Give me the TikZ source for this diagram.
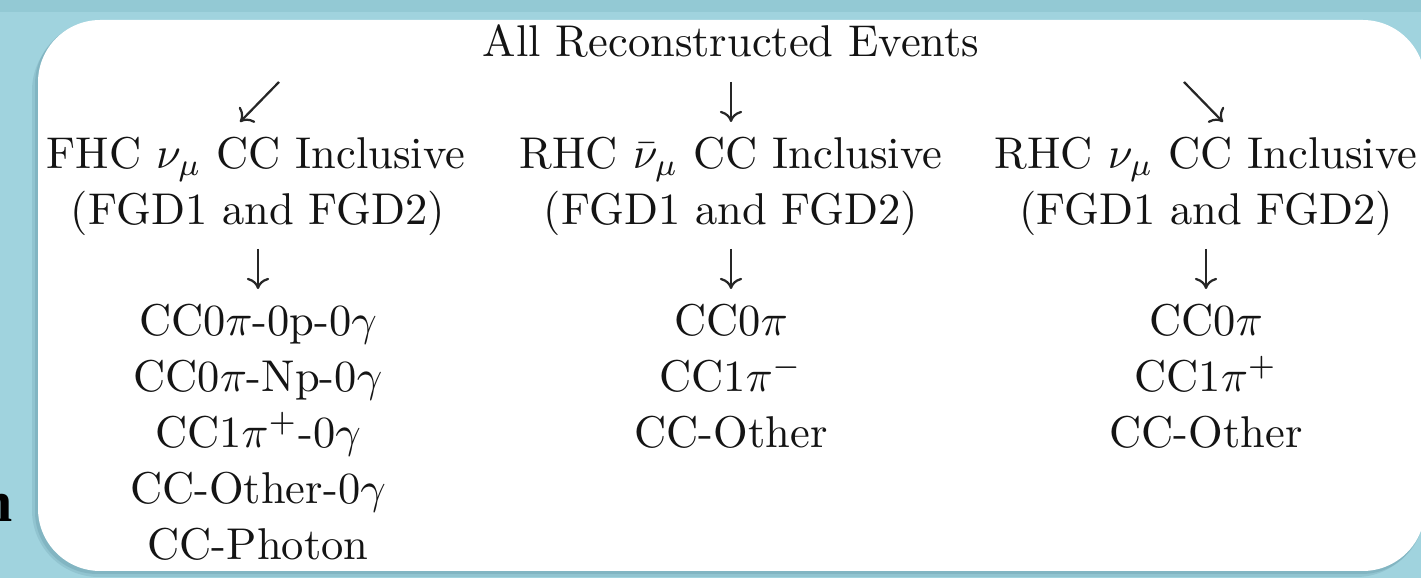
\documentclass[tikz,border=0pt]{standalone}
\usepackage{fontspec}
\newfontfamily\slidefont{Liberation Serif}
\usetikzlibrary{arrows.meta}
\definecolor{bgblue}{RGB}{160,211,222}
\definecolor{bgdark}{RGB}{120,178,192}
\definecolor{shadowc}{RGB}{80,130,145}
\begin{document}
\begin{tikzpicture}[x=0.2247pt, y=-0.2247pt,
  txt/.style={anchor=base, inner sep=0pt, font=\fontsize{10}{12}\selectfont, text=black!92},
  cmarr/.style={line width=0.5pt, draw=black!85, -{Computer Modern Rightarrow[length=2.5pt,width=5pt]}}]
\useasboundingbox (0,0) rectangle (1421,578);
% background
\fill[bgblue] (0,0) rectangle (1421,578);
\fill[bgdark, opacity=0.3] (0,0) rectangle (1421,12);
% soft shadow and white panel
\fill[shadowc, opacity=0.18, rounded corners=15pt] (32,24) rectangle (1423,577);
\fill[shadowc, opacity=0.22, rounded corners=14pt] (35,22) rectangle (1424,574);
\fill[white, rounded corners=14pt] (38,20) rectangle (1425,571);
% cut-off letter at the left edge
\node[anchor=base west, inner sep=0pt, font=\slidefont\bfseries\fontsize{13}{15}\selectfont] (cut) at (-20,522) {n};
% texts
\node[txt] (all) at (731,57) {All Reconstructed Events};
\node[txt] (fhc) at (256,168.6) {FHC $\nu_\mu$ CC Inclusive};
\node[txt] (rhcb) at (731,168.6) {RHC $\bar{\nu}_\mu$ CC Inclusive};
\node[txt] (rhc) at (1206,168.6) {RHC $\nu_\mu$ CC Inclusive};
\node[txt] (fhcd) at (258,224.4) {(FGD1 and FGD2)};
\node[txt] (rhcbd) at (731,224.4) {(FGD1 and FGD2)};
\node[txt] (rhcd) at (1206,224.4) {(FGD1 and FGD2)};
% FHC samples
\node[txt] (f1) at (258,336) {CC0$\pi$-0p-0$\gamma$};
\node[txt] (f2) at (258,391.8) {CC0$\pi$-Np-0$\gamma$};
\node[txt] (f3) at (258,447.6) {CC1$\pi^+$-0$\gamma$};
\node[txt] (f4) at (258,503.4) {CC-Other-0$\gamma$};
\node[txt] (f5) at (258,559.2) {CC-Photon};
% RHC anti-numu samples
\node[txt] (b1) at (731,336) {CC0$\pi$};
\node[txt] (b2) at (731,391.8) {CC1$\pi^-$};
\node[txt] (b3) at (731,447.6) {CC-Other};
% RHC numu samples
\node[txt] (r1) at (1206,336) {CC0$\pi$};
\node[txt] (r2) at (1206,391.8) {CC1$\pi^+$};
\node[txt] (r3) at (1206,447.6) {CC-Other};
% arrow end points
\coordinate (a1s) at (279,82);  \coordinate (a1e) at (240,122);
\coordinate (a2s) at (731,82);  \coordinate (a2e) at (731,122);
\coordinate (a3s) at (1184,82); \coordinate (a3e) at (1223,122);
\coordinate (d1s) at (258,249); \coordinate (d1e) at (258,289);
\coordinate (d2s) at (731,249); \coordinate (d2e) at (731,289);
\coordinate (d3s) at (1206,249); \coordinate (d3e) at (1206,289);
\draw[cmarr] (a1s) -- (a1e);
\draw[cmarr] (a2s) -- (a2e);
\draw[cmarr] (a3s) -- (a3e);
\draw[cmarr] (d1s) -- (d1e);
\draw[cmarr] (d2s) -- (d2e);
\draw[cmarr] (d3s) -- (d3e);
\end{tikzpicture}
\end{document}
